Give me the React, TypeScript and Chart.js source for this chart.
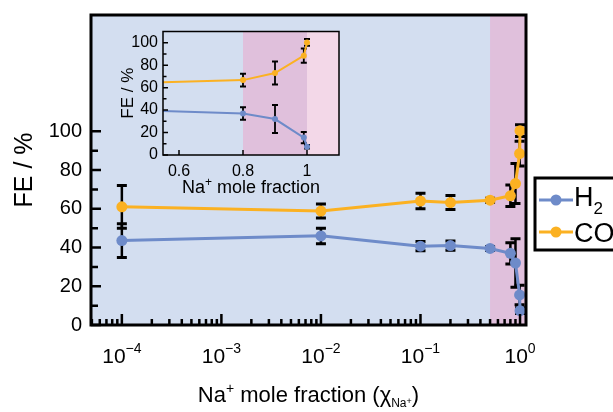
import React, { useEffect, useRef } from 'react';
import { Chart, registerables } from 'chart.js';

Chart.register(...registerables);

// ---------------- data ----------------
const naFraction = [1e-4, 1e-2, 0.1, 0.2, 0.5, 0.8, 0.9, 0.99, 1.0];
const h2FE = [43.6, 46, 40.7, 41, 39.5, 37, 32, 15.5, 7.4];
const h2Err = [8.7, 4, 2.4, 2.4, 1, 5.5, 12.5, 5, 1.5];
const coFE = [61, 58.8, 64, 63.2, 64.4, 66.7, 73, 88.5, 100.3];
const coErr = [11, 3.6, 4, 3.6, 1, 5.6, 10.3, 6.4, 3];

const mainYTicks = [0, 20, 40, 60, 80, 100];
const mainXExponents = [-4, -3, -2, -1, 0];
const insetXTicks = [0.6, 0.8, 1];
const insetYTicks = [0, 20, 40, 60, 80, 100];

const mainShadeFrom = 0.5;
const insetShade = [0.8, 1.0];

// ---------------- styles ----------------
const FAMILY = '"Liberation Sans", Arial, Helvetica, sans-serif';
const BG_BLUE = '#d3def0';
const PURPLE = '#e0c0dc';
const LIGHT_PINK = '#f3d8e8';
const ORANGE = '#fbb122';
const BLUE = '#6e8bc9';

type Part = { t: string; size: number; dy: number };

function drawRich(ctx: CanvasRenderingContext2D, parts: Part[], cx: number, baseline: number) {
  let total = 0;
  const widths: number[] = [];
  for (const p of parts) {
    ctx.font = `${p.size}px ${FAMILY}`;
    const w = ctx.measureText(p.t).width;
    widths.push(w);
    total += w;
  }
  let x = cx - total / 2;
  ctx.textAlign = 'left';
  ctx.textBaseline = 'alphabetic';
  ctx.fillStyle = '#000';
  parts.forEach((p, i) => {
    ctx.font = `${p.size}px ${FAMILY}`;
    ctx.fillText(p.t, x, baseline + p.dy);
    x += widths[i];
  });
}

function drawRichLeft(ctx: CanvasRenderingContext2D, parts: Part[], x0: number, baseline: number) {
  let x = x0;
  ctx.textAlign = 'left';
  ctx.textBaseline = 'alphabetic';
  ctx.fillStyle = '#000';
  for (const p of parts) {
    ctx.font = `${p.size}px ${FAMILY}`;
    ctx.fillText(p.t, x, baseline + p.dy);
    x += ctx.measureText(p.t).width;
  }
}

const errorBarPlugin = {
  id: 'errorBars',
  beforeDatasetsDraw(chart: any) {
    const { ctx, chartArea } = chart;
    const xs = chart.scales.x;
    const ys = chart.scales.y;
    const opts = chart.options.plugins.errorBars || {};
    const cap = opts.cap ?? 5;
    ctx.save();
    ctx.beginPath();
    ctx.rect(chartArea.left - cap, chartArea.top, chartArea.right - chartArea.left + 2 * cap, chartArea.bottom - chartArea.top);
    ctx.clip();
    ctx.strokeStyle = '#000';
    chart.data.datasets.forEach((ds: any) => {
      const errs: number[] = ds.errors || [];
      ds.data.forEach((pt: any, i: number) => {
        const e = errs[i];
        if (!e) return;
        if (pt.x < xs.min || pt.x > xs.max) return;
        const px = xs.getPixelForValue(pt.x);
        const yTop = ys.getPixelForValue(pt.y + e);
        const yBot = ys.getPixelForValue(pt.y - e);
        ctx.lineWidth = opts.width ?? 2;
        ctx.beginPath();
        ctx.moveTo(px, yTop);
        ctx.lineTo(px, yBot);
        ctx.stroke();
        ctx.lineWidth = opts.capWidth ?? 2.5;
        ctx.beginPath();
        ctx.moveTo(px - cap, yTop);
        ctx.lineTo(px + cap, yTop);
        ctx.moveTo(px - cap, yBot);
        ctx.lineTo(px + cap, yBot);
        ctx.stroke();
      });
    });
    ctx.restore();
  },
};

const mainDecor = {
  id: 'mainDecor',
  beforeDraw(chart: any) {
    const { ctx, chartArea } = chart;
    const xs = chart.scales.x;
    ctx.save();
    ctx.fillStyle = BG_BLUE;
    ctx.fillRect(chartArea.left, chartArea.top, chartArea.right - chartArea.left, chartArea.bottom - chartArea.top);
    const sx = xs.getPixelForValue(mainShadeFrom);
    ctx.fillStyle = PURPLE;
    ctx.fillRect(sx, chartArea.top, chartArea.right - sx, chartArea.bottom - chartArea.top);
    ctx.restore();
  },
  afterDraw(chart: any) {
    const { ctx, chartArea } = chart;
    const xs = chart.scales.x;
    const ys = chart.scales.y;
    const { left, right, top, bottom } = chartArea;
    ctx.save();
    // ticks (inward)
    ctx.strokeStyle = '#000';
    ctx.lineWidth = 2.5;
    ctx.beginPath();
    for (let v = 0; v <= 100; v += 10) {
      const py = ys.getPixelForValue(v);
      const len = v % 20 === 0 ? 10 : 7;
      ctx.moveTo(left, py);
      ctx.lineTo(left + len, py);
    }
    for (let d = -5; d <= 0; d++) {
      for (let m = 1; m <= 9; m++) {
        const v = m * Math.pow(10, d);
        if (v < xs.min || v > xs.max) continue;
        const px = xs.getPixelForValue(v);
        const len = m === 1 ? 11 : 6;
        ctx.moveTo(px, bottom);
        ctx.lineTo(px, bottom - len);
      }
    }
    ctx.stroke();
    // frame
    ctx.lineWidth = 3;
    ctx.strokeRect(left, top, right - left, bottom - top);

    // x tick labels with exponents
    for (const e of mainXExponents) {
      const px = xs.getPixelForValue(Math.pow(10, e));
      const ex = e < 0 ? '\u2212' + Math.abs(e) : String(e);
      drawRich(ctx, [
        { t: '10', size: 21, dy: 0 },
        { t: ex, size: 14, dy: -10 },
      ], px, 363);
    }
    // x title
    drawRich(ctx, [
      { t: 'Na', size: 22, dy: 0 },
      { t: '+', size: 14, dy: -9 },
      { t: ' mole fraction (\u03C7', size: 22, dy: 0 },
      { t: 'Na', size: 12, dy: 5 },
      { t: '+', size: 9, dy: 2 },
      { t: ')', size: 22, dy: 0 },
    ], (left + right) / 2, 402);

    // legend
    ctx.lineWidth = 3;
    ctx.strokeStyle = '#000';
    ctx.strokeRect(535, 178, 110, 72);
    const items = [
      { color: BLUE, y: 200, parts: [{ t: 'H', size: 27, dy: 0 }, { t: '2', size: 17, dy: 8 }], base: 206 },
      { color: ORANGE, y: 232, parts: [{ t: 'CO', size: 27, dy: 0 }], base: 242 },
    ];
    for (const it of items) {
      ctx.strokeStyle = it.color;
      ctx.lineWidth = 3;
      ctx.beginPath();
      ctx.moveTo(539, it.y);
      ctx.lineTo(573, it.y);
      ctx.stroke();
      ctx.fillStyle = it.color;
      ctx.beginPath();
      ctx.arc(556, it.y, 5.5, 0, Math.PI * 2);
      ctx.fill();
      drawRichLeft(ctx, it.parts, 574, it.base);
    }
    ctx.restore();
  },
};

const insetDecor = {
  id: 'insetDecor',
  beforeDraw(chart: any) {
    const { ctx, chartArea } = chart;
    const xs = chart.scales.x;
    const { left, right, top, bottom } = chartArea;
    ctx.save();
    ctx.fillStyle = BG_BLUE;
    ctx.fillRect(left, top, right - left, bottom - top);
    const a = xs.getPixelForValue(insetShade[0]);
    const b = xs.getPixelForValue(insetShade[1]);
    ctx.fillStyle = PURPLE;
    ctx.fillRect(a, top, b - a, bottom - top);
    ctx.fillStyle = LIGHT_PINK;
    ctx.fillRect(b, top, right - b, bottom - top);
    ctx.restore();
  },
  afterDraw(chart: any) {
    const { ctx, chartArea } = chart;
    const xs = chart.scales.x;
    const ys = chart.scales.y;
    const { left, right, top, bottom } = chartArea;
    ctx.save();
    ctx.strokeStyle = '#000';
    ctx.lineWidth = 1.5;
    ctx.beginPath();
    for (let v = 0; v <= 100; v += 10) {
      const py = ys.getPixelForValue(v);
      const len = v % 20 === 0 ? 5 : 3.5;
      ctx.moveTo(left, py);
      ctx.lineTo(left + len, py);
    }
    for (const v of insetXTicks) {
      const px = xs.getPixelForValue(v);
      ctx.moveTo(px, bottom);
      ctx.lineTo(px, bottom - 5);
    }
    ctx.stroke();
    ctx.lineWidth = 1.5;
    ctx.strokeRect(left, top, right - left, bottom - top);
    drawRich(ctx, [
      { t: 'Na', size: 18, dy: 0 },
      { t: '+', size: 12, dy: -7 },
      { t: ' mole fraction', size: 18, dy: 0 },
    ], (left + right) / 2, 173);
    ctx.restore();
  },
};

function makeData(startIdx: number, lineW: number, r: number) {
  const pts = (vals: number[]) => naFraction.slice(startIdx).map((x, i) => ({ x, y: vals[startIdx + i] }));
  return {
    datasets: [
      {
        label: 'H2',
        data: pts(h2FE),
        errors: h2Err.slice(startIdx),
        borderColor: BLUE,
        backgroundColor: BLUE,
        borderWidth: lineW,
        pointRadius: r,
        pointBorderWidth: 0,
        tension: 0,
      },
      {
        label: 'CO',
        data: pts(coFE),
        errors: coErr.slice(startIdx),
        borderColor: ORANGE,
        backgroundColor: ORANGE,
        borderWidth: lineW,
        pointRadius: r,
        pointBorderWidth: 0,
        tension: 0,
      },
    ],
  };
}

const zeroPad = (s: any) => {
  s.paddingTop = 0;
  s.paddingBottom = 0;
  s.paddingLeft = 0;
  s.paddingRight = 0;
};

export default function App() {
  const mainRef = useRef<HTMLCanvasElement>(null);
  const insetRef = useRef<HTMLCanvasElement>(null);

  useEffect(() => {
    Chart.defaults.font.family = FAMILY;
    Chart.defaults.color = '#000';

    const main = new Chart(mainRef.current as HTMLCanvasElement, {
      type: 'line',
      data: makeData(0, 3, 5.5) as any,
      options: {
        animation: false,
        responsive: false,
        events: [],
        layout: { padding: { top: 15, right: 87, left: 0, bottom: 0 } },
        plugins: {
          legend: { display: false },
          tooltip: { enabled: false },
          errorBars: { cap: 5, width: 2.5, capWidth: 3 },
        } as any,
        scales: {
          x: {
            type: 'logarithmic',
            min: Math.pow(10, -4.31),
            max: Math.pow(10, 0.06),
            ticks: { display: false },
            grid: { display: false, drawTicks: false },
            border: { display: false },
            afterFit: (s: any) => { s.height = 87; zeroPad(s); },
          },
          y: {
            type: 'linear',
            min: 0,
            max: 160,
            afterBuildTicks: (s: any) => { s.ticks = mainYTicks.map((v) => ({ value: v })); },
            ticks: { font: { size: 20 }, color: '#000', padding: 9 },
            grid: { display: false, drawTicks: false },
            border: { display: false },
            title: { display: true, text: 'FE / %', font: { size: 25 }, color: '#000', padding: { top: 10, bottom: 0 } },
            afterFit: (s: any) => { s.width = 91; zeroPad(s); },
          },
        },
      },
      plugins: [mainDecor, errorBarPlugin],
    });

    const startIdx = naFraction.findIndex((v) => v >= mainShadeFrom);
    const inset = new Chart(insetRef.current as HTMLCanvasElement, {
      type: 'line',
      data: makeData(startIdx, 2, 3) as any,
      options: {
        animation: false,
        responsive: false,
        events: [],
        layout: { padding: { top: 11.5, right: 11, left: 0, bottom: 0 } },
        plugins: {
          legend: { display: false },
          tooltip: { enabled: false },
          errorBars: { cap: 3, width: 1.8, capWidth: 2 },
        } as any,
        scales: {
          x: {
            type: 'linear',
            min: 0.55,
            max: 1.1,
            afterBuildTicks: (s: any) => { s.ticks = insetXTicks.map((v) => ({ value: v })); },
            ticks: { font: { size: 16 }, color: '#000', padding: 7, maxRotation: 0, autoSkip: false, callback: (v: any) => String(v) },
            grid: { display: false, drawTicks: false },
            border: { display: false },
            afterFit: (s: any) => { s.height = 45; zeroPad(s); },
          },
          y: {
            type: 'linear',
            min: 0,
            max: 110,
            afterBuildTicks: (s: any) => { s.ticks = insetYTicks.map((v) => ({ value: v })); },
            ticks: { font: { size: 16 }, color: '#000', padding: 5 },
            grid: { display: false, drawTicks: false },
            border: { display: false },
            title: { display: true, text: 'FE / %', font: { size: 17 }, color: '#000', padding: { top: 18, bottom: 0 } },
            afterFit: (s: any) => { s.width = 63; zeroPad(s); },
          },
        },
      },
      plugins: [insetDecor, errorBarPlugin],
    });

    return () => {
      main.destroy();
      inset.destroy();
    };
  }, []);

  return (
    <div style={{ position: 'fixed', left: 0, top: 0, width: 613, height: 412, background: '#fff' }}>
      <canvas ref={mainRef} width={613} height={412} style={{ position: 'absolute', left: 0, top: 0 }} />
      <canvas ref={insetRef} width={250} height={180} style={{ position: 'absolute', left: 100, top: 20 }} />
    </div>
  );
}
